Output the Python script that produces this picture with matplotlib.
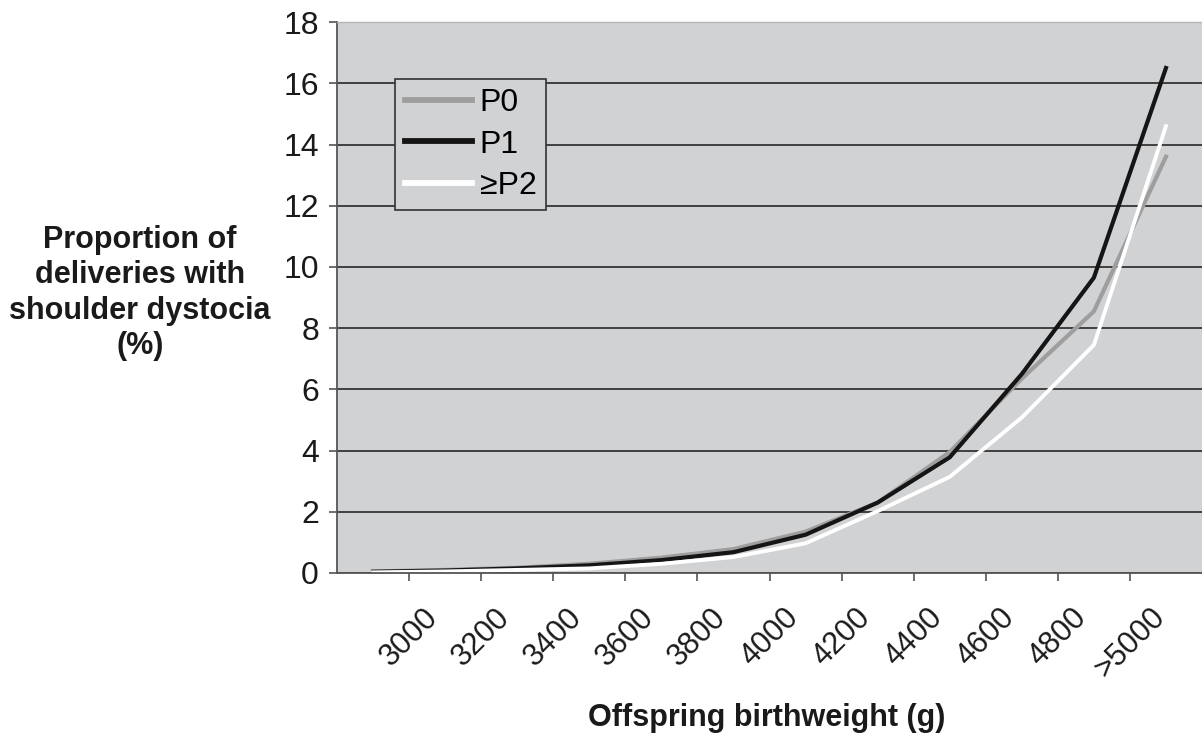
import matplotlib.pyplot as plt

# birthweight bands (g); labels sit on the band boundaries
bands = ["<3000", "3000-3199", "3200-3399", "3400-3599", "3600-3799", "3800-3999",
         "4000-4199", "4200-4399", "4400-4599", "4600-4799", "4800-4999", ">5000"]
tick_labels = ["3000", "3200", "3400", "3600", "3800", "4000",
               "4200", "4400", "4600", "4800", ">5000"]

# proportion of deliveries with shoulder dystocia (%) by parity
p0 = [0.05, 0.10, 0.17, 0.30, 0.50, 0.78, 1.35, 2.30, 3.95, 6.35, 8.55, 13.6]
p1 = [0.04, 0.08, 0.15, 0.25, 0.42, 0.68, 1.25, 2.30, 3.78, 6.50, 9.65, 16.5]
p2 = [0.02, 0.05, 0.10, 0.15, 0.30, 0.52, 0.97, 2.02, 3.14, 5.08, 7.45, 14.6]

plt.rcParams["font.family"] = ["Liberation Sans", "DejaVu Sans"]

fig = plt.figure(figsize=(12.02, 7.36), dpi=100)
ax = fig.add_axes([0.2804, 0.2215, 0.7196, 0.7485])
ax.set_facecolor("#d1d2d4")

x = list(range(len(bands)))
ax.plot(x, p0, color="#9e9e9e", lw=3.0, label="P0", solid_joinstyle="miter")
ax.plot(x, p1, color="#151515", lw=3.0, label="P1", solid_joinstyle="miter")
ax.plot(x, p2, color="white", lw=2.8, label="\u2265P2", solid_joinstyle="miter")

ax.set_xlim(-0.5, len(bands) - 0.5)
ax.set_ylim(0, 18)
ax.set_yticks(range(0, 19, 2))
ax.set_xticks([i + 0.5 for i in range(len(tick_labels))])
ax.set_xticklabels(tick_labels, rotation=45, ha="center", va="top")

ax.yaxis.grid(True, color="#404040", lw=1.4)
ax.set_axisbelow(True)

ax.tick_params(axis="both", direction="out", length=6, width=1.2,
               color="#555555", labelsize=23, labelcolor="#1a1a1a")
ax.tick_params(axis="x", labelsize=22, pad=15)
ax.tick_params(axis="y", pad=7)

for side in ["left", "bottom"]:
    ax.spines[side].set_color("#555555")
    ax.spines[side].set_linewidth(1.3)
ax.spines["top"].set_color("#b5b5b5")
ax.spines["top"].set_linewidth(1.0)
ax.spines["right"].set_visible(False)

leg = ax.legend(loc="upper left", bbox_to_anchor=(0.067, 0.897), fontsize=23,
                frameon=True, fancybox=False, handlelength=2.1, handletextpad=0.25,
                borderpad=0.3, labelspacing=0.35, borderaxespad=0)
leg.get_frame().set_facecolor("#d1d2d4")
leg.get_frame().set_edgecolor("#333333")
leg.get_frame().set_linewidth(1.2)
leg.get_frame().set_alpha(1)
for h in leg.get_lines():
    h.set_linewidth(4.2)

fig.text(0.1165, 0.602, "Proportion of\ndeliveries with\nshoulder dystocia\n(%)",
         ha="center", va="center", fontsize=22, fontweight="bold",
         color="#1a1a1a", linespacing=1.24)
fig.text(0.638, 0.0245, "Offspring birthweight (g)", ha="center", va="center",
         fontsize=22, fontweight="bold", color="#1a1a1a")

fig.savefig("out.png", dpi=100)
